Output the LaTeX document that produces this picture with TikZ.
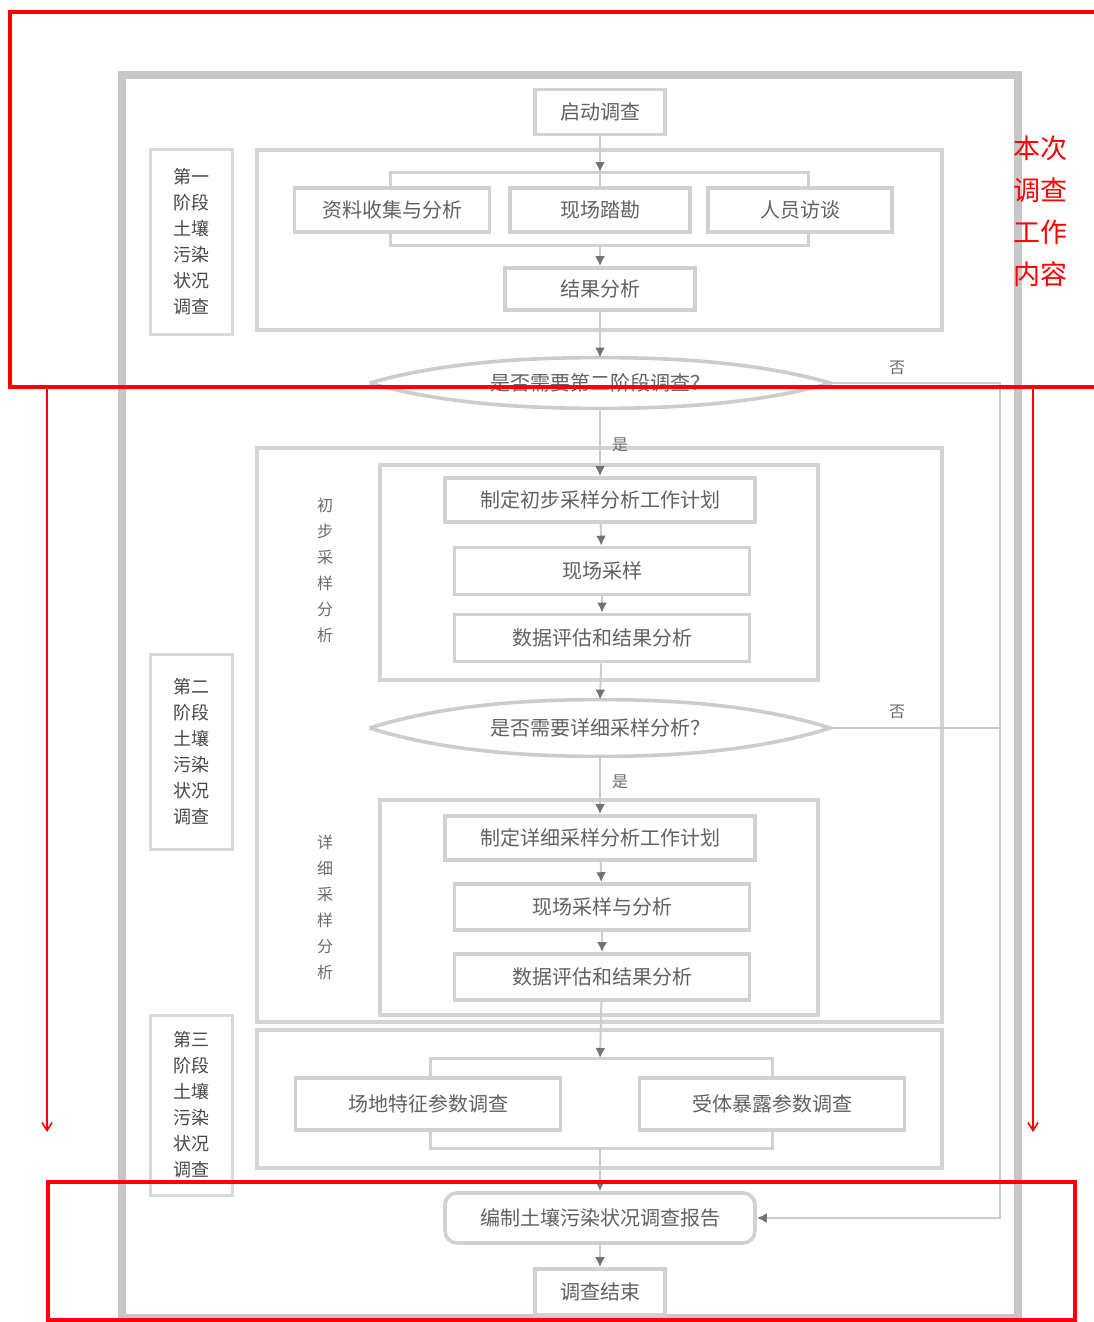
\documentclass[tikz,border=0pt]{standalone}
\usepackage{fontspec}
\setmainfont{Noto Sans CJK SC}
\usetikzlibrary{arrows.meta}
\begin{document}
\begin{tikzpicture}[x=0.5pt,y=-0.5pt,
  frame/.style={draw=black!22, line width=4pt},
  panel/.style={draw=black!17, line width=2pt, inner sep=0pt},
  box/.style={draw=black!18, line width=1.8pt, fill=white, inner sep=0pt, text=black!62, font=\fontsize{10}{12}\selectfont},
  lab/.style={draw=black!15, line width=1.5pt, text=black!72, font=\fontsize{9}{13}\selectfont, align=center, inner sep=0pt},
  vlab/.style={text=black!58, font=\fontsize{8}{13}\selectfont, align=center, inner sep=0pt},
  flow/.style={draw=black!20, line width=1pt, -{Latex[length=5pt,width=5pt,color=black!55]}},
  plain/.style={draw=black!20, line width=1pt},
  bracket/.style={draw=black!18, line width=1.5pt},
  lens/.style={draw=black!20, line width=1.8pt, fill=white},
  note/.style={text=black!58, font=\fontsize{8}{10}\selectfont, inner sep=1pt},
  redbox/.style={draw=red, line width=1.8pt, inner sep=0pt},
  redarr/.style={draw=red, line width=0.8pt, -{Straight Barb[length=4pt,width=5pt]}},
  sz/.style 2 args={minimum width=#1, minimum height=#2},
]
\useasboundingbox (0,0) rectangle (1093,1322);

% outer frame
\node[frame, sz={448pt}{621.5pt}, inner sep=0pt] (outer) at (570,696.5) {};

% stage panels and labels
\node[panel, sz={342.5pt}{90pt}] (s1) at (599.5,240) {};
\node[panel, sz={342.5pt}{287pt}] (s2) at (599.5,735) {};
\node[panel, sz={342.5pt}{69pt}] (s3) at (599.5,1099) {};
\node[lab, sz={41pt}{92.5pt}] (s1lab) at (191,242) {第一\\阶段\\土壤\\污染\\状况\\调查};
\node[lab, sz={41pt}{97.5pt}] (s2lab) at (191,752) {第二\\阶段\\土壤\\污染\\状况\\调查};
\node[lab, sz={41pt}{90pt}] (s3lab) at (191,1105) {第三\\阶段\\土壤\\污染\\状况\\调查};

% sub-blocks of stage 2
\node[panel, sz={219pt}{107.5pt}] (sb1) at (599,572.5) {};
\node[panel, sz={219pt}{107.5pt}] (sb2) at (599,907.5) {};
\node[vlab] (l1) at (325,570) {初\\步\\采\\样\\分\\析};
\node[vlab] (l2) at (325,907) {详\\细\\采\\样\\分\\析};

% brackets
\draw[bracket] (390,172) rectangle (808,245);
\draw[bracket] (430,1058) rectangle (772,1148);
\coordinate (brt) at (600,172);
\coordinate (brb) at (600,245);
\coordinate (bst) at (600,1058);
\coordinate (bsb) at (600,1148);

% boxes
\node[box, sz={65pt}{22.5pt}] (start) at (600,112) {启动调查};
\node[box, sz={97.5pt}{22pt}] (a1) at (392,210) {资料收集与分析};
\node[box, sz={90pt}{22pt}] (a2) at (600,210) {现场踏勘};
\node[box, sz={92pt}{22pt}] (a3) at (800,210) {人员访谈};
\node[box, sz={95pt}{21pt}] (a4) at (600,289) {结果分析};

\node[box, sz={155pt}{22pt}] (b1) at (600,500) {制定初步采样分析工作计划};
\node[box, sz={147.5pt}{23.5pt}] (b2) at (602,571) {现场采样};
\node[box, sz={147.5pt}{23.5pt}] (b3) at (602,638) {数据评估和结果分析};

\node[box, sz={155pt}{22pt}] (c1) at (600,838) {制定详细采样分析工作计划};
\node[box, sz={147.5pt}{23pt}] (c2) at (602,907) {现场采样与分析};
\node[box, sz={147.5pt}{23pt}] (c3) at (602,977) {数据评估和结果分析};

\node[box, sz={132.5pt}{26pt}] (e1) at (428,1104) {场地特征参数调查};
\node[box, sz={132.5pt}{26pt}] (e2) at (772,1104) {受体暴露参数调查};

\node[box, sz={155pt}{25pt}, rounded corners=6pt] (r) at (600,1218) {编制土壤污染状况调查报告};
\node[box, sz={65pt}{23pt}] (finish) at (600,1292) {调查结束};

% decision lenses
\node[sz={230pt}{25pt}, inner sep=0pt] (d1) at (600,383) {};
\draw[lens] (d1.west) .. controls +(70,-20) and +(-80,0) .. (d1.north)
  .. controls +(80,0) and +(-70,-20) .. (d1.east)
  .. controls +(-70,20) and +(80,0) .. (d1.south)
  .. controls +(-80,0) and +(70,20) .. (d1.west);
\node[box, draw=none, fill=none] (d1t) at (d1) {是否需要第二阶段调查？};

\node[sz={230pt}{28pt}, inner sep=0pt] (d2) at (600,728) {};
\draw[lens] (d2.west) .. controls +(70,-22) and +(-80,0) .. (d2.north)
  .. controls +(80,0) and +(-70,-22) .. (d2.east)
  .. controls +(-70,22) and +(80,0) .. (d2.south)
  .. controls +(-80,0) and +(70,22) .. (d2.west);
\node[box, draw=none, fill=none] (d2t) at (d2) {是否需要详细采样分析？};

% connectors
\draw[flow] (start) -- (brt);
\draw[plain] (brt) -- (a2);
\draw[flow] (brb) -- (a4);
\draw[flow] (a4) -- (d1.north);
\draw[flow] (d1.south) -- (b1);
\draw[flow] (b1) -- (b2);
\draw[flow] (b2) -- (b3);
\draw[flow] (b3) -- (d2.north);
\draw[flow] (d2.south) -- (c1);
\draw[flow] (c1) -- (c2);
\draw[flow] (c2) -- (c3);
\draw[flow] (c3) -- (bst);
\draw[flow] (bsb) -- (r);
\draw[flow] (r) -- (finish);

\coordinate (rc1) at (1000,383);
\coordinate (rc2) at (1000,728);
\coordinate (rc3) at (1000,1218);
\draw[flow] (d1.east) -- (rc1) -- (rc3) -- (r.east);
\draw[plain] (d2.east) -- (rc2);

\node[note] (no1) at (897,368) {否};
\node[note] (no2) at (897,712) {否};
\node[note] (yes1) at (620,445) {是};
\node[note] (yes2) at (620,782) {是};

% red overlay
\node[redbox, sz={545pt}{187.5pt}] (rtop) at (555,199.5) {};
\node[text=red, font=\fontsize{13.5}{21}\selectfont, align=center, inner sep=0pt] (rnote) at (1040,211) {本次\\调查\\工作\\内容};
\coordinate (ra1s) at (47,389);
\coordinate (ra1e) at (47,1132);
\coordinate (ra2s) at (1033,389);
\coordinate (ra2e) at (1033,1132);
\draw[redarr] (ra1s) -- (ra1e);
\draw[redarr] (ra2s) -- (ra2e);
\node[redbox, sz={513.5pt}{69pt}] (rbot) at (561.5,1251) {};
\end{tikzpicture}
\end{document}
